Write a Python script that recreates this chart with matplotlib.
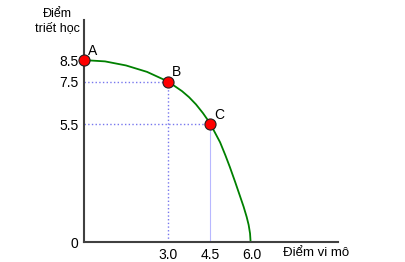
import matplotlib.pyplot as plt

plt.rcParams['font.family'] = ['Liberation Sans', 'DejaVu Sans']

# production possibility curve
curve_x = [0, 0.75, 1.5, 2.25, 3.0, 3.5, 3.75, 4.0, 4.25, 4.5, 4.86, 5.05, 5.21,
           5.4, 5.57, 5.7, 5.81, 5.88, 5.93, 5.95]
curve_y = [8.5, 8.44, 8.25, 7.95, 7.5, 7.05, 6.77, 6.43, 6.02, 5.55, 4.66, 4.05, 3.5,
           2.8, 2.15, 1.65, 1.17, 0.8, 0.4, 0]

pt_names = ['A', 'B', 'C']
pt_x = [0, 3.0, 4.5]
pt_y = [8.5, 7.5, 5.5]

xticks = [3.0, 4.5, 6.0]
yticks = [0, 5.5, 7.5, 8.5]

fig = plt.figure(figsize=(4.06, 2.62), dpi=100)
ax = fig.add_axes([84 / 406, 20 / 262, 254 / 406, 222 / 262])
ax.set_xlim(0, 254 / 28)
ax.set_ylim(0, 222 / 21.4)

# guide lines
ax.plot([0, pt_x[1]], [pt_y[1], pt_y[1]], ':', color='#7777ee', lw=1)
ax.plot([pt_x[1], pt_x[1]], [0, pt_y[1]], ':', color='#7777ee', lw=1)
ax.plot([0, pt_x[2]], [pt_y[2], pt_y[2]], ':', color='#7777ee', lw=1)
ax.plot([pt_x[2], pt_x[2]], [0, pt_y[2]], '-', color='#b8b8ff', lw=0.8)

ax.plot(curve_x, curve_y, color='#008000', lw=1.3)
ax.plot(pt_x, pt_y, 'o', ms=8, mfc='red', mec='#202020', mew=0.8, clip_on=False, zorder=5)
for n, x, y in zip(pt_names, pt_x, pt_y):
    ax.annotate(n, (x, y), xytext=(3, 4), textcoords='offset points', fontsize=10)

for s in ['top', 'right']:
    ax.spines[s].set_visible(False)
for s in ['left', 'bottom']:
    ax.spines[s].set_color('#404040')
    ax.spines[s].set_linewidth(1.5)

ax.set_xticks(xticks)
ax.set_xticklabels(['%.1f' % v for v in xticks], fontsize=10)
ax.set_yticks(yticks)
ax.set_yticklabels(['0', '5.5', '7.5', '8.5'], fontsize=10)
ax.tick_params(length=0, pad=4)

fig.text(57 / 406, 1 - 21 / 262, 'Điểm\ntriết học', ha='center', va='center',
         fontsize=9, linespacing=1.15)
fig.text(283 / 406, 1 - 253 / 262, 'Điểm vi mô', ha='left', va='center', fontsize=9.5)

fig.savefig('out.png', dpi=100)
